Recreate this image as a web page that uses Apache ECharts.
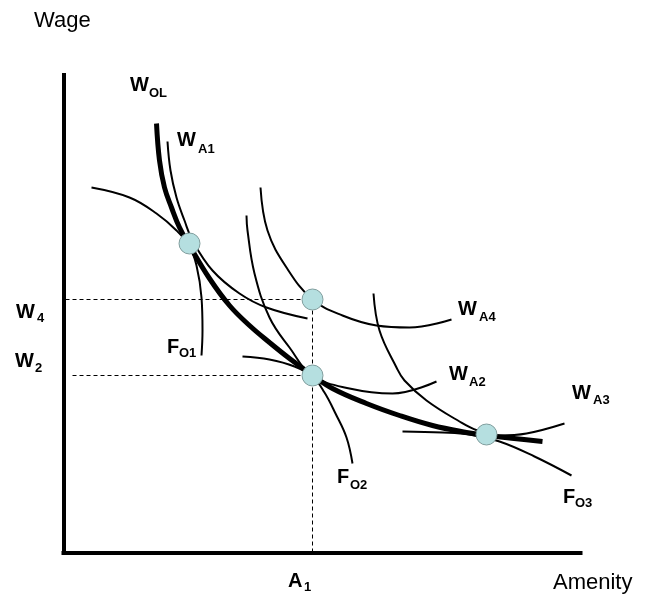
<!DOCTYPE html>
<html>
<head>
<meta charset="utf-8">
<script src="https://cdn.jsdelivr.net/npm/echarts@6/dist/echarts.min.js"></script>
<style>
  html, body { margin: 0; padding: 0; background: #fff; }
  #chart { width: 654px; height: 594px; }
</style>
</head>
<body>
<div id="chart"></div>
<script>
// amenity (right from origin) / wage (up from origin)
const wOL = [[93,429],[96,392],[101,365],[108,345],[116,325],[126,307],[146,274],[166,247],[186,227],[206,210],[226,194],[248,178],[269,164],[303,149],[336,137],[369,127],[403,120],[423,117],[479,111]]
const wA1 = [[104,411],[107,382],[113,355],[121,332],[129,312],[149,282],[176,259],[203,245],[244,234]]
const fO1 = [[28,365],[66,355],[93,339],[113,322],[126,306],[133,287],[138,255],[139,222],[138,197]]
const wA4 = [[197,365],[204,322],[223,285],[249,253],[279,237],[313,227],[346,225],[388,233]]
const wA2 = [[183,337],[184,322],[191,279],[206,235],[226,205],[249,177],[286,164],[329,159],[373,171]]
const fO2 = [[179,196],[206,193],[231,186],[249,176],[261,160],[272,139],[283,115],[289,89]]
const wA3 = [[310,259],[316,222],[333,185],[341,172],[363,152],[396,131],[414,122],[436,117],[463,119],[501,129]]
const fO3 = [[339,121],[379,120],[406,118],[436,111],[471,96],[508,77]]
const tangents = [[126,309],[249,253],[249,177],[423,118]]

const A1 = 249
const W4 = 253
const W2 = 177

const font = '"Liberation Sans", Arial, sans-serif'

const curve = (data, width) => ({
  type: "line",
  data: data,
  smooth: 0.4,
  symbol: "none",
  lineStyle: { color: "#000", width: width },
  z: 2
})

const dashed = (data) => ({
  type: "line",
  data: data,
  symbol: "none",
  lineStyle: { color: "#000", width: 1, type: [4, 3] },
  z: 1
})

// letter plus subscript, as two text pieces
function label(x, y, main, sub, dx, dy) {
  const items = [{
    type: "text", x: x, y: y,
    style: { text: main, fontSize: 20, fontWeight: "bold", fontFamily: font, fill: "#000", verticalAlign: "middle" }
  }]
  if (sub) items.push({
    type: "text", x: x + dx, y: y + dy,
    style: { text: sub, fontSize: 13, fontWeight: "bold", fontFamily: font, fill: "#000", verticalAlign: "middle" }
  })
  return items
}

const graphics = [].concat(
  [{ type: "text", x: 34, y: 21, style: { text: "Wage", fontSize: 22, fontFamily: font, fill: "#000", verticalAlign: "middle" } }],
  [{ type: "text", x: 553, y: 583, style: { text: "Amenity", fontSize: 22, fontFamily: font, fill: "#000", verticalAlign: "middle" } }],
  label(130, 85, "W", "OL", 19, 8),
  label(177, 140, "W", "A1", 21, 9),
  label(16, 312, "W", "4", 21, 6),
  label(15, 361, "W", "2", 20, 7),
  label(167, 347, "F", "O1", 12, 6),
  label(288, 581, "A", "1", 16, 6),
  label(458, 309, "W", "A4", 21, 8),
  label(449, 374, "W", "A2", 20, 8),
  label(572, 393, "W", "A3", 21, 7),
  label(337, 477, "F", "O2", 13, 8),
  label(563, 497, "F", "O3", 12, 6)
)

const chart = echarts.init(document.getElementById("chart"))
chart.setOption({
  animation: false,
  grid: { left: 63.5, top: 75, width: 517, height: 477.5 },
  xAxis: {
    type: "value", min: 0, max: 517,
    axisLine: { lineStyle: { color: "#000", width: 4, cap: "square" } },
    axisTick: { show: false }, axisLabel: { show: false }, splitLine: { show: false }
  },
  yAxis: {
    type: "value", min: 0, max: 477.5,
    axisLine: { lineStyle: { color: "#000", width: 4, cap: "square" } },
    axisTick: { show: false }, axisLabel: { show: false }, splitLine: { show: false }
  },
  series: [
    dashed([[2, W4], [A1, W4]]),
    dashed([[9, W2], [A1, W2]]),
    dashed([[A1, 0], [A1, W4]]),
    curve(wOL, 5),
    curve(wA1, 2),
    curve(fO1, 2),
    curve(wA4, 2),
    curve(wA2, 2),
    curve(fO2, 2),
    curve(wA3, 2),
    curve(fO3, 2),
    {
      type: "scatter",
      data: tangents,
      symbolSize: 21,
      itemStyle: { color: "#b5dfe0", borderColor: "#7f9c9c", borderWidth: 1, opacity: 1 },
      z: 5
    }
  ],
  graphic: graphics
})
</script>
</body>
</html>
